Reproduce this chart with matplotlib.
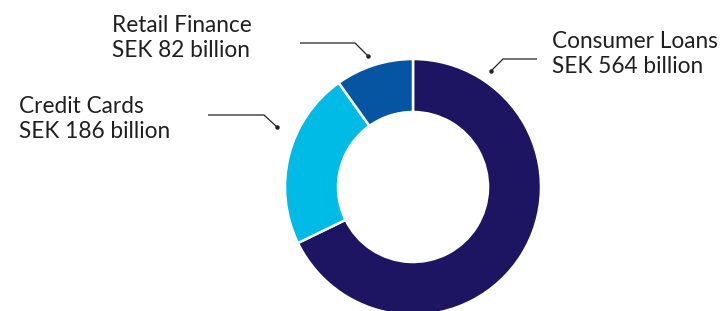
import matplotlib
matplotlib.use("Agg")
import matplotlib.pyplot as plt

categories = ["Consumer Loans", "Credit Cards", "Retail Finance"]
values = [564, 186, 82]
value_labels = ["SEK 564 billion", "SEK 186 billion", "SEK 82 billion"]
colors = ["#1d1562", "#00bbe6", "#0655a3"]

W, H = 722, 311
fig = plt.figure(figsize=(W / 100, H / 100), dpi=100)
ax = fig.add_axes([0, 0, 1, 1])

cx, cy, r = 413, H - 187, 128
ax.pie(values, colors=colors, startangle=90, counterclock=False,
       center=(cx, cy), radius=r, frame=True,
       wedgeprops=dict(width=r * 0.414, edgecolor="white", linewidth=1.8))
ax.set_xlim(0, W)
ax.set_ylim(0, H)
ax.set_aspect("equal")
ax.axis("off")

font = "Lato"
tc = "#1f1f1f"
fs = 16.3

# label positions (top-left, pixel coords from top)
label_pos = {
    "Consumer Loans": (552, 31),
    "Credit Cards": (19, 96),
    "Retail Finance": (112, 15),
}
for cat, vl in zip(categories, value_labels):
    x, y = label_pos[cat]
    ax.text(x, H - y, cat + "\n" + vl, ha="left", va="top", fontsize=fs,
            family=font, color=tc, linespacing=1.22)

# leader lines (pixel coords from top)
leaders = {
    "Retail Finance": [(300, 43), (355, 43), (368, 56)],
    "Consumer Loans": [(537, 59), (503, 59), (491, 71)],
    "Credit Cards": [(208, 115), (264, 115), (277, 127)],
}
for pts in leaders.values():
    xs = [p[0] for p in pts]
    ys = [H - p[1] for p in pts]
    ax.plot(xs, ys, color="#222222", lw=0.9, solid_capstyle="butt")
    ax.plot(xs[-1], ys[-1], "o", color="#222222", ms=2.2)

fig.savefig("out.png", dpi=100)
